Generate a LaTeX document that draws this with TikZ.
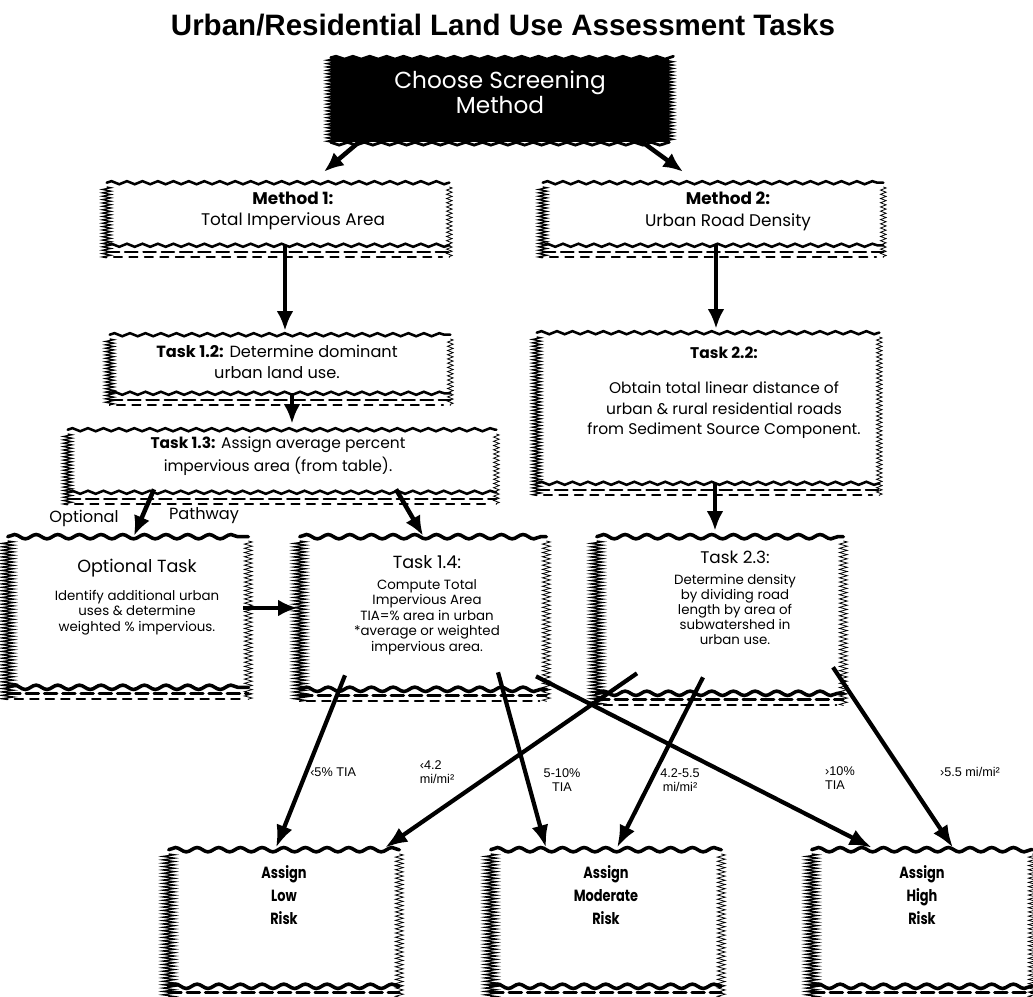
\documentclass[tikz,border=0pt]{standalone}
\usepackage{fontspec}
\setmainfont{Poppins}
\newfontfamily\labelfont{Liberation Sans}
\newfontfamily\titlefont{Liberation Sans}
\newfontfamily\narrowfont[FakeStretch=0.8]{Poppins}
\usetikzlibrary{arrows.meta,calc,decorations.pathmorphing}

% hand-drawn outline round a node: #1 = weight, #2 = node name
\newcommand{\sketchframe}[2][1]{%
  \draw[wave, line width=#1*1.8pt, decoration={amplitude=#1*1.1pt, segment length=#1*11pt}] (#2.north west) -- (#2.north east);
  \draw[fuzz, decoration={amplitude=#1*3pt}] ([yshift=-3pt]#2.north west) -- ([yshift=-9pt]#2.south west);
  \draw[fuzz, line width=0.55pt, decoration={amplitude=#1*2pt, segment length=3pt}] ([yshift=-3pt]#2.north east) -- ([yshift=-9pt]#2.south east);
  \draw[wave, line width=#1*1.8pt, decoration={amplitude=#1*1.1pt, segment length=#1*11pt}] (#2.south west) -- (#2.south east);
  \draw[line width=#1*1.4pt, line cap=round, dash pattern=on 9pt off 4pt] ([yshift=-4.5pt]#2.south west) -- ([yshift=-4.5pt]#2.south east);
  \draw[line width=#1*1.1pt, line cap=round, dash pattern=on 6pt off 5pt] ([xshift=5pt,yshift=-8.5pt]#2.south west) -- ([xshift=-5pt,yshift=-8.5pt]#2.south east);
}

\begin{document}
\begin{tikzpicture}[x=0.025cm, y=-0.025cm,
    box/.style={rectangle, inner sep=0pt},
    wave/.style={decorate, decoration={snake, amplitude=1pt, segment length=12pt}, line cap=round},
    fuzz/.style={decorate, decoration={zigzag, segment length=2.4pt}, line width=0.9pt},
    arr/.style={-{Latex[length=14pt,width=12pt]}, line width=3.2pt},
    fan/.style={-{Latex[length=16pt,width=12pt]}, line width=3pt},
    txt/.style={align=center, inner sep=0pt},
    lbl/.style={align=left, inner sep=0pt, font=\labelfont\fontsize{9}{10}\selectfont}]
  \useasboundingbox (0,0) rectangle (1033,997);

  \node[txt, font=\titlefont\bfseries\fontsize{21}{24}\selectfont] (title) at (503,25) {Urban/Residential Land Use Assessment Tasks};

  % screening choice, white on black
  \node[box, fill=black, minimum width=8.45cm, minimum height=2.1cm] (choose) at (500,100) {};
  \draw[wave, line width=2pt] (choose.north west) -- (choose.north east) (choose.south west) -- (choose.south east);
  \draw[fuzz, decoration={amplitude=3pt}] (choose.north west) -- (choose.south west) (choose.north east) -- (choose.south east);
  \node[txt, white, font=\fontsize{16.5}{15.5}\selectfont] (choose-t) at (500,92) {Choose Screening\\Method};

  % the two methods
  \node[box, minimum width=8.55cm, minimum height=1.55cm] (m1) at (278,214) {};
  \node[txt, font=\fontsize{12}{15.5}\selectfont] (m1-t) at (293,211) {\textbf{Method 1:}\\Total Impervious Area};
  \node[box, minimum width=8.5cm, minimum height=1.55cm] (m2) at (713,214) {};
  \node[txt, font=\fontsize{12}{15.5}\selectfont] (m2-t) at (728,211) {\textbf{Method 2:}\\Urban Road Density};

  % method 1 tasks
  \node[box, minimum width=8.5cm, minimum height=1.45cm] (t12) at (280,364) {};
  \node[txt, font=\fontsize{11.5}{15}\selectfont] (t12-t) at (277,362) {\textbf{Task 1.2:} Determine dominant\\urban land use.};
  \node[box, minimum width=10.7cm, minimum height=1.55cm] (t13) at (282,461) {};
  \node[txt, font=\fontsize{11}{16}\selectfont] (t13-t) at (278,456) {\textbf{Task 1.3:} Assign average percent\\impervious area (from table).};
  \node[box, minimum width=6cm, minimum height=3.75cm] (opt) at (128,612) {};
  \node[txt, font=\fontsize{9.5}{11}\selectfont] (opt-t) at (137,597) {{\fontsize{12.5}{14}\selectfont Optional Task}\\[9pt]Identify additional urban\\uses \& determine\\weighted \% impervious.};
  \node[box, minimum width=6.15cm, minimum height=3.8cm] (t14) at (423,613) {};
  \node[txt, font=\fontsize{9.5}{11}\selectfont] (t14-t) at (427,605) {{\fontsize{12.5}{14}\selectfont Task 1.4:}\\[4pt]Compute Total\\Impervious Area\\TIA=\% area in urban\\*average or weighted\\impervious area.};

  % method 2 tasks
  \node[box, minimum width=8.55cm, minimum height=3.75cm] (t22) at (708,408) {};
  \node[txt, font=\fontsize{11}{14.7}\selectfont] (t22-t) at (724,393) {\textbf{Task 2.2:}\\[10pt]Obtain total linear distance of\\urban \& rural residential roads\\from Sediment Source Component.};
  \node[box, minimum width=6.15cm, minimum height=3.9cm] (t23) at (720,615) {};
  \node[txt, font=\fontsize{9.5}{10.7}\selectfont] (t23-t) at (735,598) {{\fontsize{12}{14}\selectfont Task 2.3:}\\[4pt]Determine density\\by dividing road\\length by area of\\subwatershed in\\urban use.};

  % risk classes
  \node[box, minimum width=5.75cm, minimum height=3.4cm] (low) at (284,918) {};
  \node[txt, font=\narrowfont\bfseries\fontsize{11.5}{16.5}\selectfont] (low-t) at (284,895) {Assign\\Low\\Risk};
  \node[box, minimum width=5.75cm, minimum height=3.4cm] (mod) at (606,918) {};
  \node[txt, font=\narrowfont\bfseries\fontsize{11.5}{16.5}\selectfont] (mod-t) at (606,895) {Assign\\Moderate\\Risk};
  \node[box, minimum width=5.5cm, minimum height=3.4cm] (high) at (922,918) {};
  \node[txt, font=\narrowfont\bfseries\fontsize{11.5}{16.5}\selectfont] (high-t) at (922,895) {Assign\\High\\Risk};

  \sketchframe{m1}
  \sketchframe{m2}
  \sketchframe{t12}
  \sketchframe{t13}
  \sketchframe{t22}
  \sketchframe[1.4]{opt}
  \sketchframe[1.4]{t14}
  \sketchframe[1.4]{t23}
  \sketchframe[1.4]{low}
  \sketchframe[1.4]{mod}
  \sketchframe[1.4]{high}

  % flow down the two methods
  \draw[arr] ($(choose.south)+(-133,-7)$) -- ($(m1.north)+(46,-11)$);
  \draw[arr] ($(choose.south)+(133,-7)$) -- ($(m2.north)+(-30,-11)$);
  \draw[arr] ($(m1.south)+(7,0)$) -- ($(t12.north)+(5,-4)$);
  \draw[arr] ($(t12.south)+(12,0)$) -- ($(t13.north)+(10,-6)$);
  \draw[arr] ($(m2.south)+(3,0)$) -- ($(t22.north)+(8,-4)$);
  \draw[arr] ($(t22.south)+(7,0)$) -- ($(t23.north)+(-5,-6)$);
  \draw[arr] ($(t13.south)+(-128,-3)$) -- ($(opt.north)+(6,-1)$);
  \draw[arr] ($(t13.south)+(114,-3)$) -- ($(t14.north)+(0,-1)$);
  \draw[arr] ($(opt.east)+(-5,-4)$) -- ($(t14.west)+(-2,-5)$);
  \node[txt, font=\fontsize{11.5}{13}\selectfont] (opt-a) at (84,518) {Optional};
  \node[txt, font=\fontsize{11.5}{13}\selectfont] (opt-b) at (204,516) {Pathway};

  % thresholds to risk classes
  \draw[fan] ($(t14.south)+(-78,-14)$) -- ($(low.north)+(-8,-2)$);
  \draw[fan] ($(t14.south)+(75,-17)$) -- ($(mod.north)+(-60,-2)$);
  \draw[fan] ($(t14.south)+(113,-13)$) -- ($(high.north)+(-50,-2)$);
  \draw[fan] ($(t23.south)+(-83,-20)$) -- ($(low.north)+(101,-2)$);
  \draw[fan] ($(t23.south)+(-17,-16)$) -- ($(mod.north)+(11,-2)$);
  \draw[fan] ($(t23.south)+(113,-26)$) -- ($(high.north)+(31,-2)$);
  \node[lbl, anchor=west] (l1) at (310,772) {‹5\% TIA};
  \node[lbl] (l2) at (437,772) {‹4.2\\mi/mi²};
  \node[lbl, align=center] (l3) at (562,780) {5-10\%\\TIA};
  \node[lbl, align=center] (l4) at (680,780) {4.2-5.5\\mi/mi²};
  \node[lbl] (l5) at (840,778) {›10\%\\TIA};
  \node[lbl] (l6) at (970,772) {›5.5 mi/mi²};
\end{tikzpicture}
\end{document}
